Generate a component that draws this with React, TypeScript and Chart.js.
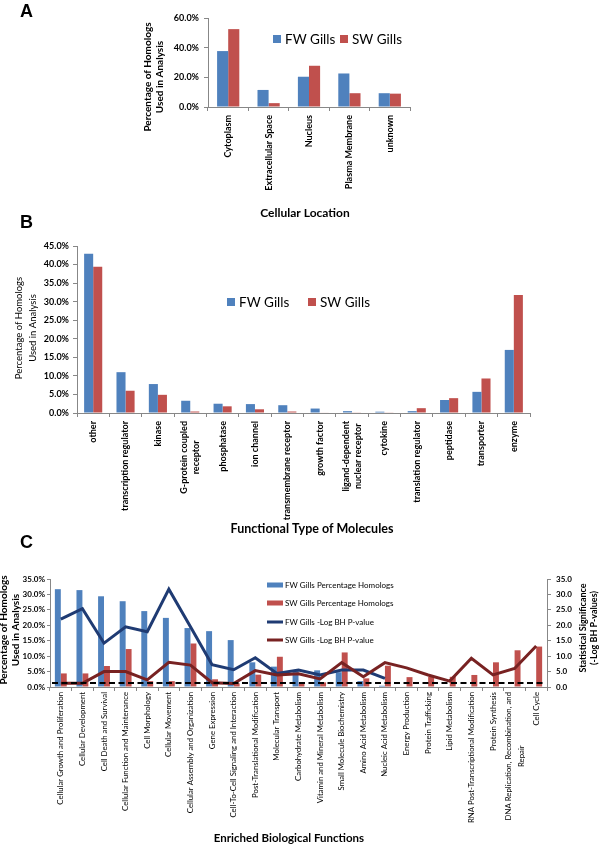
import React, { useEffect, useRef } from 'react';
import { Chart, registerables } from 'chart.js';

Chart.register(...registerables);

const FW_BAR = '#4F81BD';
const SW_BAR = '#C0504D';
const FW_LINE = '#1F3B73';
const SW_LINE = '#782222';
const AXIS_COLOR = '#878787';
const SANS = 'Lato, "Open Sans", "DejaVu Sans", sans-serif';
const LETTER_FONT = 'bold 18px "Liberation Sans", Arial, sans-serif';
const f = (size: number, weight = 'normal') => `${weight} ${size}px ${SANS}`;
const PAGE_W = 600;
const PAGE_H = 845;

// ---------- Panel A : Cellular Location ----------
const locationLabels = ['Cytoplasm', 'Extracellular Space', 'Nucleus', 'Plasma Membrane', 'unknown'];
const locationFW = [37.7, 11.5, 20.4, 22.6, 9.3];
const locationSW = [52.5, 2.6, 27.8, 9.3, 9.0];
const locationTicks = [0, 60, 20]; // min, max, step

// ---------- Panel B : Functional Type of Molecules ----------
const typeLabels: (string | string[])[] = [
  'other', 'transcription regulator', 'kinase', ['G-protein coupled', 'receptor'], 'phosphatase',
  'ion channel', 'transmembrane receptor', 'growth factor', ['ligand-dependent', 'nuclear receptor'],
  'cytokine', 'translation regulator', 'peptidase', 'transporter', 'enzyme',
];
const typeFW = [42.9, 11.0, 7.8, 3.3, 2.5, 2.4, 2.1, 1.2, 0.5, 0.35, 0.5, 3.5, 5.7, 17.0];
const typeSW = [39.4, 6.0, 4.9, 0.4, 1.8, 1.0, 0.4, 0.15, 0.1, 0.1, 1.3, 4.0, 9.3, 31.8];
const typeTicks = [0, 45, 5];

// ---------- Panel C : Enriched Biological Functions ----------
const functionLabels: (string | string[])[] = [
  'Cellular Growth and Proliferation', 'Cellular Development', 'Cell Death and Survival',
  'Cellular Function and Maintenance', 'Cell Morphology', 'Cellular Movement',
  'Cellular Assembly and Organization', 'Gene Expression', 'Cell-To-Cell Signaling and Interaction',
  'Post-Translational Modification', 'Molecular Transport', 'Carbohydrate Metabolism',
  'Vitamin and Mineral Metabolism', 'Small Molecule Biochemistry', 'Amino Acid Metabolism',
  'Nucleic Acid Metabolism', 'Energy Production', 'Protein Trafficking', 'Lipid Metabolism',
  'RNA Post-Transcriptional Modification', 'Protein Synthesis',
  ['DNA Replication, Recombination, and', 'Repair'], 'Cell Cycle',
];
const functionFWPct = [31.7, 31.4, 29.4, 27.8, 24.6, 22.4, 19.1, 18.1, 15.2, 8.0, 6.6, 5.5, 5.4, 4.8, 1.9, 0.4, 0, 0, 0, 0, 0, 0, 0];
const functionSWPct = [4.4, 4.4, 6.8, 12.3, 1.9, 1.9, 14.1, 2.5, 1.2, 4.0, 9.8, 1.5, 1.5, 11.2, 2.8, 6.9, 3.2, 3.3, 3.3, 3.9, 8.0, 11.9, 13.1];
const functionFWLogP = [22.0, 25.4, 14.2, 19.5, 17.9, 31.7, 19.5, 7.2, 5.6, 9.5, 4.4, 5.5, 3.9, 5.5, 5.5, 2.8, null, null, null, null, null, null, null];
const functionSWLogP = [1.2, 1.2, 5.0, 5.0, 2.3, 8.0, 7.1, 1.4, 1.1, 5.3, 3.9, 4.3, 2.6, 7.9, 3.3, 7.9, 6.2, 3.9, 1.9, 9.3, 3.9, 6.0, 13.3];
const pctTicksC = [0, 35, 5];
const sigTicksC = [0, 35, 5];
const significanceThreshold = 1.3;

// ---------- plugins ----------
const panelText = {
  id: 'panelText',
  afterDraw(chart: any, _a: any, opts: any) {
    const ctx = chart.ctx;
    (opts.items || []).forEach((it: any) => {
      ctx.save();
      ctx.font = it.font;
      ctx.fillStyle = '#000';
      ctx.textAlign = it.align || 'center';
      ctx.textBaseline = 'middle';
      ctx.translate(it.x, it.y);
      if (it.rotate) ctx.rotate(it.rotate);
      const lines = Array.isArray(it.text) ? it.text : [it.text];
      const lh = it.lineHeight || 12;
      lines.forEach((ln: string, j: number) => ctx.fillText(ln, 0, (j - (lines.length - 1) / 2) * lh));
      ctx.restore();
    });
  },
};

const rotatedLabels = {
  id: 'rotatedLabels',
  afterDraw(chart: any, _a: any, opts: any) {
    if (!opts.font) return;
    const scale = chart.scales.x;
    const ctx = chart.ctx;
    ctx.save();
    ctx.font = opts.font;
    ctx.fillStyle = '#000';
    ctx.textBaseline = 'middle';
    ctx.textAlign = 'right';
    (chart.data.labels || []).forEach((lab: any, i: number) => {
      const lines: string[] = Array.isArray(lab) ? lab : [lab];
      const widths = lines.map((l) => ctx.measureText(l).width);
      const maxW = Math.max(...widths);
      const x = scale.getPixelForValue(i);
      const top = chart.chartArea.bottom + opts.gap;
      lines.forEach((ln, j) => {
        ctx.save();
        ctx.translate(x + (j - (lines.length - 1) / 2) * opts.lineHeight, top + (maxW - widths[j]) / 2);
        ctx.rotate(-Math.PI / 2);
        ctx.fillText(ln, 0, 0);
        ctx.restore();
      });
    });
    ctx.restore();
  },
};

const freeLegend = {
  id: 'freeLegend',
  afterDraw(chart: any, _a: any, opts: any) {
    if (!opts.items) return;
    const ctx = chart.ctx;
    ctx.save();
    ctx.font = opts.font;
    ctx.textBaseline = 'middle';
    ctx.textAlign = 'left';
    chart.data.datasets.forEach((ds: any, i: number) => {
      const p = opts.items[i];
      if (!p) return;
      if (ds.type === 'line') {
        ctx.strokeStyle = ds.borderColor;
        ctx.lineWidth = ds.borderWidth;
        ctx.beginPath();
        ctx.moveTo(p.x, p.y);
        ctx.lineTo(p.x + opts.boxW, p.y);
        ctx.stroke();
      } else {
        ctx.fillStyle = ds.backgroundColor;
        ctx.fillRect(p.x, p.y - opts.boxH / 2, opts.boxW, opts.boxH);
      }
      ctx.fillStyle = '#000';
      ctx.fillText(ds.label, p.x + opts.textOffset, p.y + 0.5);
    });
    ctx.restore();
  },
};

const thresholdLine = {
  id: 'thresholdLine',
  afterDatasetsDraw(chart: any, _a: any, opts: any) {
    if (opts.value === undefined) return;
    const ctx = chart.ctx;
    const y = chart.scales[opts.axis].getPixelForValue(opts.value);
    ctx.save();
    ctx.strokeStyle = '#000';
    ctx.lineWidth = 2;
    ctx.setLineDash([6, 3.5]);
    ctx.beginPath();
    ctx.moveTo(chart.chartArea.left + 2, y);
    ctx.lineTo(chart.chartArea.right - 2, y);
    ctx.stroke();
    ctx.restore();
  },
};

const PLUGINS = [panelText, rotatedLabels, freeLegend, thresholdLine];

// ---------- axis factories ----------
const X_AXIS_H = 10;
function catAxis() {
  return {
    type: 'category',
    offset: true,
    grid: { display: true, offset: true, drawOnChartArea: false, drawTicks: true, tickLength: 4, color: AXIS_COLOR, lineWidth: 1 },
    border: { display: true, color: AXIS_COLOR, width: 1 },
    ticks: { display: false },
    afterFit: (s: any) => { s.height = X_AXIS_H; },
  };
}

function valAxis(t: number[], width: number, position: string, fmt: (v: number) => string, size: number, padding: number, tickLength: number) {
  return {
    type: 'linear',
    position,
    min: t[0],
    max: t[1],
    ticks: { stepSize: t[2], callback: (v: any) => fmt(Number(v)), font: { family: SANS, size, weight: 'bold' }, color: '#000', padding },
    grid: { display: true, drawOnChartArea: false, drawTicks: true, tickLength, color: AXIS_COLOR },
    border: { display: true, color: AXIS_COLOR, width: 1 },
    afterFit: (s: any) => { s.width = width; },
  };
}

// plot area box -> layout padding (canvas covers whole page)
function area(top: number, bottom: number, right: number) {
  return { padding: { left: 0, top, right: PAGE_W - right, bottom: PAGE_H - bottom - X_AXIS_H } };
}

const pct = (v: number) => v.toFixed(1) + '%';
const num = (v: number) => v.toFixed(1);
const ROT = -Math.PI / 2;

function barDs(label: string, data: number[], color: string, cp: number, extra: any = {}) {
  return { type: 'bar', label, data, backgroundColor: color, borderWidth: 0, categoryPercentage: cp, barPercentage: 1, order: 2, ...extra };
}

function configA(): any {
  return {
    type: 'bar',
    data: {
      labels: locationLabels,
      datasets: [barDs('FW Gills', locationFW, FW_BAR, 0.55), barDs('SW Gills', locationSW, SW_BAR, 0.55)],
    },
    plugins: PLUGINS,
    options: {
      responsive: false, animation: false, events: [],
      layout: area(18, 107, 410),
      scales: { x: catAxis(), y: valAxis(locationTicks, 208, 'left', pct, 9, 5, 4) },
      plugins: {
        legend: { display: false }, tooltip: { enabled: false },
        panelText: { items: [
          { text: 'A', x: 20, y: 12, font: LETTER_FONT, align: 'left' },
          { text: ['Percentage of Homologs', 'Used in Analysis'], x: 154, y: 77, rotate: ROT, font: f(10, 'bold'), lineHeight: 12 },
          { text: 'Cellular Location', x: 305, y: 213, font: f(12, 'bold') },
        ] },
        rotatedLabels: { font: f(9, 'bold'), gap: 8, lineHeight: 12 },
        freeLegend: { items: [{ x: 273, y: 39 }, { x: 340, y: 39 }], font: f(13.5), boxW: 8, boxH: 8, textOffset: 12 },
      },
    },
  };
}

function configB(): any {
  return {
    type: 'bar',
    data: {
      labels: typeLabels,
      datasets: [barDs('FW Gills', typeFW, FW_BAR, 0.56), barDs('SW Gills', typeSW, SW_BAR, 0.56)],
    },
    plugins: PLUGINS,
    options: {
      responsive: false, animation: false, events: [],
      layout: area(246, 413, 530),
      scales: { x: catAxis(), y: valAxis(typeTicks, 77, 'left', pct, 9, 4, 4) },
      plugins: {
        legend: { display: false }, tooltip: { enabled: false },
        panelText: { items: [
          { text: 'B', x: 20, y: 223, font: LETTER_FONT, align: 'left' },
          { text: ['Percentage of Homologs', 'Used in Analysis'], x: 26, y: 328, rotate: ROT, font: f(9.5), lineHeight: 14 },
          { text: 'Functional Type of Molecules', x: 312, y: 529, font: f(12.5, 'bold') },
        ] },
        rotatedLabels: { font: f(9, 'bold'), gap: 8, lineHeight: 12 },
        freeLegend: { items: [{ x: 227, y: 302 }, { x: 308, y: 302 }], font: f(13.5), boxW: 8, boxH: 8, textOffset: 12 },
      },
    },
  };
}

function configC(): any {
  return {
    type: 'bar',
    data: {
      labels: functionLabels,
      datasets: [
        barDs('FW Gills Percentage Homologs', functionFWPct, FW_BAR, 0.55, { yAxisID: 'y' }),
        barDs('SW Gills Percentage Homologs', functionSWPct, SW_BAR, 0.55, { yAxisID: 'y' }),
        { type: 'line', label: 'FW Gills -Log BH P-value', data: functionFWLogP, yAxisID: 'y2', borderColor: FW_LINE, backgroundColor: FW_LINE, borderWidth: 3, pointRadius: 0, tension: 0, fill: false, order: 1 },
        { type: 'line', label: 'SW Gills -Log BH P-value', data: functionSWLogP, yAxisID: 'y2', borderColor: SW_LINE, backgroundColor: SW_LINE, borderWidth: 3, pointRadius: 0, tension: 0, fill: false, order: 0 },
      ],
    },
    plugins: PLUGINS,
    options: {
      responsive: false, animation: false, events: [],
      layout: area(579, 687, 600),
      scales: {
        x: catAxis(),
        y: valAxis(pctTicksC, 50, 'left', pct, 8, 2, 3),
        y2: valAxis(sigTicksC, 53, 'right', num, 8, 5, 4),
      },
      plugins: {
        legend: { display: false }, tooltip: { enabled: false },
        panelText: { items: [
          { text: 'C', x: 20, y: 543, font: LETTER_FONT, align: 'left' },
          { text: ['Percentage of Homologs', 'Used in Analysis'], x: 10, y: 630, rotate: ROT, font: f(10, 'bold'), lineHeight: 12 },
          { text: ['Statistical Significance', '(-Log BH P-values)'], x: 588.5, y: 628, rotate: ROT, font: f(9, 'bold'), lineHeight: 11 },
          { text: 'Enriched Biological Functions', x: 289, y: 838, font: f(11.5, 'bold') },
        ] },
        rotatedLabels: { font: f(7.8), gap: 5, lineHeight: 13 },
        freeLegend: { items: [{ x: 267, y: 585 }, { x: 267, y: 603 }, { x: 267, y: 622 }, { x: 267, y: 640 }], font: f(8), boxW: 16, boxH: 5, textOffset: 18 },
        thresholdLine: { axis: 'y2', value: significanceThreshold },
      },
    },
  };
}

export default function App() {
  const refA = useRef<HTMLCanvasElement>(null);
  const refB = useRef<HTMLCanvasElement>(null);
  const refC = useRef<HTMLCanvasElement>(null);

  useEffect(() => {
    document.body.style.margin = '0';
    const charts = [
      new Chart(refA.current as HTMLCanvasElement, configA()),
      new Chart(refB.current as HTMLCanvasElement, configB()),
      new Chart(refC.current as HTMLCanvasElement, configC()),
    ];
    return () => charts.forEach((c) => c.destroy());
  }, []);

  const cs: React.CSSProperties = { position: 'absolute', left: 0, top: 0 };
  return (
    <div style={{ position: 'relative', width: PAGE_W, height: PAGE_H, background: '#fff', overflow: 'hidden' }}>
      <canvas ref={refA} width={PAGE_W} height={PAGE_H} style={cs} />
      <canvas ref={refB} width={PAGE_W} height={PAGE_H} style={cs} />
      <canvas ref={refC} width={PAGE_W} height={PAGE_H} style={cs} />
    </div>
  );
}
